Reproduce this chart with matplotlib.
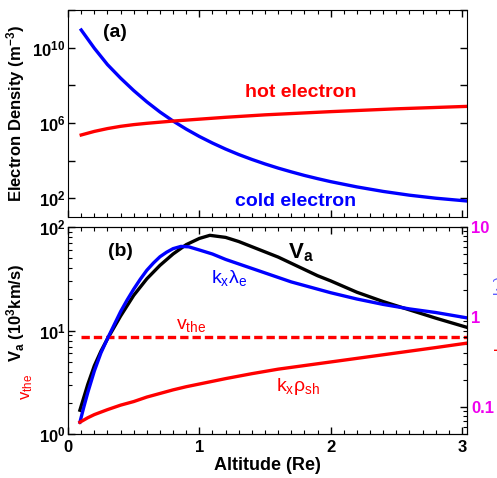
import numpy as np
import matplotlib
matplotlib.use('Agg')
import matplotlib.pyplot as plt
from matplotlib.ticker import FixedLocator, NullFormatter, LogLocator, FixedFormatter

plt.rcParams['font.family'] = 'Liberation Sans'
plt.rcParams['mathtext.fontset'] = 'custom'
plt.rcParams['mathtext.rm'] = 'Liberation Sans'
plt.rcParams['mathtext.bf'] = 'Liberation Sans:bold'
plt.rcParams['mathtext.it'] = 'Liberation Sans:italic'
plt.rcParams['mathtext.default'] = 'regular'

# (a) electron densities, log10 of m^-3
alt_cold = [0.10, 0.20, 0.30, 0.40, 0.50, 0.60, 0.70, 0.80, 0.90, 1.00, 1.10, 1.20, 1.30, 1.40,
            1.50, 1.60, 1.70, 1.80, 1.90, 2.00, 2.20, 2.40, 2.60, 2.80, 3.04]
log_cold = [10.94, 9.97, 9.10, 8.38, 7.72, 7.12, 6.58, 6.10, 5.67, 5.28, 4.93, 4.61, 4.32, 4.06,
            3.82, 3.60, 3.40, 3.21, 3.04, 2.88, 2.60, 2.36, 2.16, 2.00, 1.85]
alt_hot = [0.10, 0.20, 0.30, 0.40, 0.50, 0.60, 0.70, 0.80, 1.00, 1.20, 1.50, 2.00, 2.50, 3.04]
log_hot = [5.36, 5.55, 5.70, 5.82, 5.91, 5.98, 6.04, 6.10, 6.20, 6.30, 6.43, 6.60, 6.75, 6.88]

# (b) Va and vthe (10^3 km/s), left axis, log10
alt_va = [0.09, 0.15, 0.20, 0.25, 0.30, 0.40, 0.50, 0.60, 0.70, 0.80, 0.90, 1.00, 1.08, 1.20,
          1.30, 1.40, 1.50, 1.60, 1.70, 1.80, 1.90, 2.00, 2.20, 2.40, 2.60, 2.80, 3.04]
log_va = [0.23, 0.48, 0.66, 0.80, 0.92, 1.14, 1.34, 1.50, 1.63, 1.74, 1.83, 1.89, 1.92, 1.90,
          1.86, 1.81, 1.76, 1.71, 1.65, 1.59, 1.53, 1.48, 1.37, 1.28, 1.20, 1.12, 1.03]
alt_vthe = [0.10, 3.04]
vthe = [8.65, 8.65]

# (b) kx*lambda_e and kx*rho_sh, right axis, log10
alt_kl = [0.09, 0.12, 0.15, 0.20, 0.25, 0.30, 0.35, 0.40, 0.45, 0.50, 0.55, 0.60, 0.65, 0.70,
          0.75, 0.80, 0.86, 0.92, 1.00, 1.10, 1.20, 1.30, 1.40, 1.50, 1.60, 1.70, 1.80, 1.90,
          2.00, 2.20, 2.40, 2.60, 2.80, 3.04]
log_kl = [-1.17, -1.00, -0.84, -0.60, -0.40, -0.24, -0.09, 0.06, 0.19, 0.31, 0.42, 0.52, 0.60, 0.67,
          0.72, 0.76, 0.785, 0.78, 0.745, 0.70, 0.64, 0.59, 0.54, 0.49, 0.44, 0.39, 0.35, 0.31,
          0.27, 0.20, 0.14, 0.09, 0.05, -0.01]
alt_kr = [0.09, 0.15, 0.20, 0.30, 0.40, 0.50, 0.60, 0.70, 0.80, 0.90, 1.00, 1.20, 1.40, 1.60,
          1.80, 2.00, 2.20, 2.40, 2.60, 2.80, 3.04]
log_kr = [-1.17, -1.12, -1.085, -1.03, -0.98, -0.94, -0.89, -0.85, -0.81, -0.775, -0.745, -0.685,
          -0.63, -0.58, -0.54, -0.50, -0.46, -0.42, -0.38, -0.34, -0.29]

fig = plt.figure(figsize=(4.97, 4.78), dpi=100)
ax1 = fig.add_axes([0.137, 0.546, 0.803, 0.433])
ax2 = fig.add_axes([0.137, 0.092, 0.803, 0.433])

lw = 2.4
tfs = 12

# panel (a)
ax1.semilogy(alt_cold, 10**np.array(log_cold), color='#0000ff', lw=lw)
ax1.semilogy(alt_hot, 10**np.array(log_hot), color='#ff0000', lw=lw)
ax1.set_xlim(0, 3.04)
ax1.set_ylim(1e1, 1e12)
ax1.yaxis.set_major_locator(FixedLocator([10.0**k for k in range(2, 13, 2)]))
ax1.yaxis.set_minor_locator(FixedLocator([]))
ax1.yaxis.set_major_formatter(FixedFormatter([r'$\mathbf{10^{2}}$', '', r'$\mathbf{10^{6}}$', '',
                                              r'$\mathbf{10^{10}}$', '']))
ax1.set_xticks([0, 1, 2, 3])
ax1.set_xticks(np.arange(0, 3.05, 0.1), minor=True)
ax1.xaxis.set_major_formatter(NullFormatter())
ax1.set_ylabel(r'Electron Density (m$^{-3}$)', fontsize=12, fontweight='bold')
ax1.yaxis.set_label_coords(-0.103, 0.5)
ax1.text(0.36, 10**10.78, '(a)', fontsize=14, fontweight='bold', ha='center', va='center')
ax1.text(1.77, 10**7.64, 'hot electron', fontsize=14, fontweight='bold', color='#ff0000', ha='center', va='center')
ax1.text(1.73, 10**1.85, 'cold electron', fontsize=14, fontweight='bold', color='#0000ff', ha='center', va='center')

# panel (b)
ax2.semilogy(alt_va, 10**np.array(log_va), color='black', lw=lw)
ax2.semilogy(alt_vthe, vthe, color='#ff0000', lw=lw, ls=(0, (2.5, 1.2)))
ax2.set_xlim(0, 3.04)
ax2.set_ylim(1, 100)
ax2.set_yticks([1, 10, 100])
ax2.set_yticklabels([r'$\mathbf{10^{0}}$', r'$\mathbf{10^{1}}$', r'$\mathbf{10^{2}}$'])
ax2.yaxis.set_minor_locator(LogLocator(base=10, subs=np.arange(2, 10)))
ax2.yaxis.set_minor_formatter(NullFormatter())
ax2.set_xticks([0, 1, 2, 3])
ax2.set_xticklabels(['0', '1', '2', '3'], fontweight='bold')
ax2.set_xticks(np.arange(0, 3.05, 0.1), minor=True)
ax2.set_xlabel('Altitude (Re)', fontsize=13, fontweight='bold', labelpad=2)

ax3 = ax2.twinx()
ax3.semilogy(alt_kl, 10**np.array(log_kl), color='#0000ff', lw=lw)
ax3.semilogy(alt_kr, 10**np.array(log_kr), color='#ff0000', lw=lw)
ax3.set_ylim(0.05, 10)
ax3.set_yticks([0.1, 1, 10])
ax3.set_yticklabels(['0.1', '1', '10'], fontweight='bold', color='#ee00ee')
ax3.yaxis.set_minor_locator(LogLocator(base=10, subs=np.arange(2, 10)))
ax3.yaxis.set_minor_formatter(NullFormatter())

for ax in (ax1, ax2):
    ax.tick_params(which='both', direction='in', top=True, labelsize=tfs, pad=2)
    ax.tick_params(which='major', length=5, width=1)
    ax.tick_params(which='minor', length=3, width=0.8)
    for lab in ax.get_xticklabels() + ax.get_yticklabels():
        lab.set_fontweight('bold')
ax2.tick_params(axis='x', pad=4)
ax1.tick_params(which='both', right=True)
ax3.tick_params(which='both', direction='in', labelsize=tfs, pad=3)
ax3.tick_params(which='major', length=5, width=1)
ax3.tick_params(which='minor', length=3, width=0.8)

ax2.text(0.40, 58, '(b)', fontsize=14, fontweight='bold', ha='center', va='center')
ax2.text(1.77, 57, r'V$_{a}$', fontsize=16, fontweight='bold', ha='center', va='center')
ax2.text(1.23, 32, r'k$_x$λ$_e$', fontsize=14, color='#0000ff', ha='center', va='center')
ax2.text(0.94, 11.3, r'v$_{the}$', fontsize=14, color='#ff0000', ha='center', va='center')
ax2.text(1.75, 2.85, r'k$_x$ρ$_{sh}$', fontsize=14, color='#ff0000', ha='center', va='center')

ax2.set_ylabel(r'V$_a$ (10$^3$km/s)', fontsize=12, fontweight='bold')
ax2.yaxis.set_label_coords(-0.103, 0.585)
fig.text(0.055, 0.19, r'v$_{the}$', fontsize=12, color='#ff0000', rotation=90, ha='center', va='center')

# right-hand label, mostly beyond the figure edge as in the original
fig.text(0.992, 0.30, r'k$_x$ρ$_{sh}$', fontsize=11, color='#ff0000', rotation=90, ha='left', va='center')
fig.text(0.992, 0.41, r'k$_x$λ$_e$', fontsize=11, color='#6060ff', rotation=90, ha='left', va='center')

fig.savefig('out.png', dpi=100)
